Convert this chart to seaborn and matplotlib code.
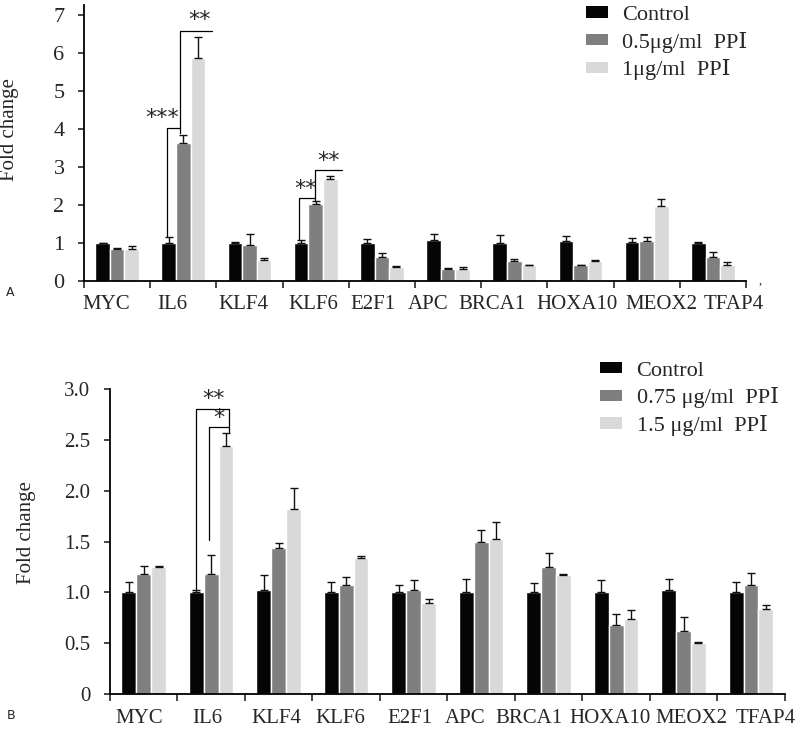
import numpy as np
import pandas as pd
import matplotlib
matplotlib.use("Agg")
import matplotlib.pyplot as plt
import seaborn as sns
from matplotlib.patches import Patch
from matplotlib.ticker import FixedLocator, NullFormatter

# -------------------------------
# Data
# -------------------------------
genes = ["MYC", "IL6", "KLF4", "KLF6", "E2F1", "APC", "BRCA1", "HOXA10", "MEOX2", "TFAP4"]

groups_a = ["Control", "0.5μg/ml  PPⅠ", "1μg/ml  PPⅠ"]
ctrl_a = [1.00, 1.00, 1.00, 1.00, 1.00, 1.08, 1.00, 1.05, 1.03, 1.01]
mid_a = [0.85, 3.63, 0.95, 2.02, 0.64, 0.31, 0.54, 0.41, 1.06, 0.64]
high_a = [0.85, 5.87, 0.56, 2.69, 0.38, 0.33, 0.42, 0.54, 1.97, 0.42]
ctrl_a_err = [0.00, 0.15, 0.04, 0.07, 0.11, 0.17, 0.22, 0.13, 0.10, 0.01]
mid_a_err = [0.03, 0.23, 0.30, 0.08, 0.10, 0.04, 0.04, 0.01, 0.10, 0.12]
high_a_err = [0.08, 0.56, 0.05, 0.09, 0.02, 0.05, 0.01, 0.01, 0.20, 0.08]

groups_b = ["Control", "0.75 μg/ml  PPⅠ", "1.5 μg/ml  PPⅠ"]
ctrl_b = [1.00, 1.00, 1.02, 1.00, 1.00, 1.00, 1.00, 1.00, 1.02, 1.00]
mid_b = [1.18, 1.18, 1.44, 1.07, 1.02, 1.50, 1.25, 0.68, 0.62, 1.07]
high_b = [1.25, 2.44, 1.82, 1.34, 0.90, 1.53, 1.17, 0.74, 0.50, 0.84]
ctrl_b_err = [0.10, 0.02, 0.15, 0.10, 0.07, 0.13, 0.09, 0.12, 0.11, 0.10]
mid_b_err = [0.08, 0.19, 0.05, 0.08, 0.10, 0.11, 0.14, 0.11, 0.14, 0.12]
high_b_err = [0.01, 0.13, 0.21, 0.02, 0.03, 0.16, 0.01, 0.09, 0.01, 0.04]

# gene labels are not centred under the bars in the original figure
label_pos_a = [-0.17, 0.83, 1.90, 2.96, 3.87, 4.70, 5.66, 6.95, 8.22, 9.32]
label_pos_b = [-0.07, 0.94, 1.96, 2.92, 3.94, 4.76, 5.71, 6.91, 8.11, 9.22]

colors = ["#050505", "#7f7f7f", "#d9d9d9"]

sns.set_style("white")
plt.rcParams["font.family"] = ["Liberation Serif", "DejaVu Serif"]


def long_df(groups, vals):
    rows = []
    for g, v in zip(groups, vals):
        for gene, y in zip(genes, v):
            rows.append({"gene": gene, "group": g, "value": y})
    return pd.DataFrame(rows)


def draw_panel(ax, groups, vals, errs, ylim, yticks, yticklabels, tick_fs,
               label_pos, lab_fs, lab_pad, leg_loc):
    df = long_df(groups, vals)
    sns.barplot(data=df, x="gene", y="value", hue="group", order=genes,
                hue_order=groups, palette=colors, width=0.66, errorbar=None,
                saturation=1, legend=False, ax=ax)
    # upward error bars on each bar
    for cont, err in zip(ax.containers, errs):
        xs = [p.get_x() + p.get_width() / 2 for p in cont.patches]
        ys = [p.get_height() for p in cont.patches]
        ax.errorbar(xs, ys, yerr=[np.zeros(len(err)), err], fmt="none",
                    ecolor="#111111", elinewidth=1.0, capsize=3, capthick=1.0)
    ax.set_xlim(-0.5, len(genes) - 0.5)
    ax.set_ylim(*ylim)
    ax.set_yticks(yticks)
    ax.set_yticklabels(yticklabels, fontsize=tick_fs)
    ax.set_xticks(label_pos)
    ax.set_xticklabels(genes, fontsize=lab_fs)
    ax.xaxis.set_minor_locator(FixedLocator(np.arange(-0.5, len(genes), 1.0)))
    ax.xaxis.set_minor_formatter(NullFormatter())
    ax.tick_params(axis="x", which="major", length=0, pad=lab_pad)
    ax.tick_params(axis="x", which="minor", length=5, width=1.2, direction="out", bottom=True)
    ax.tick_params(axis="y", length=4, width=1.2, direction="out", left=True, pad=10)
    ax.set_xlabel("")
    ax.set_ylabel("Fold change", fontsize=15)
    for s in ["top", "right"]:
        ax.spines[s].set_visible(False)
    for s in ["left", "bottom"]:
        ax.spines[s].set_color("black")
        ax.spines[s].set_linewidth(1.3)
    handles = [Patch(facecolor=c, edgecolor="none") for c in colors]
    ax.legend(handles, groups, loc="upper left", bbox_to_anchor=leg_loc, frameon=False,
              fontsize=16, handlelength=1.0, handleheight=0.4, handletextpad=0.65,
              labelspacing=0.3, borderaxespad=0, borderpad=0)


fig = plt.figure(figsize=(8, 7.3), dpi=100)
star_kw = dict(ha="center", va="bottom", fontsize=16, family="DejaVu Sans")

# Panel A
ax1 = fig.add_axes([0.105, 0.615, 0.8275, 0.378])
draw_panel(ax1, groups_a, [ctrl_a, mid_a, high_a], [ctrl_a_err, mid_a_err, high_a_err],
           (0, 7.27), range(8), [str(i) for i in range(8)], 16,
           label_pos_a, 15, 10, (0.758, 0.997))
ax1.yaxis.set_label_coords(-0.098, 0.55)

# brackets, panel A
lw = 0.9
ax1.plot([0.76, 0.76, 0.95], [1.18, 4.03, 4.03], color="k", lw=lw)
ax1.plot([0.95, 0.95, 1.43], [3.9, 6.58, 6.58], color="k", lw=lw)
ax1.text(0.68, 4.02, "***", **star_kw)
ax1.text(1.24, 6.62, "**", **star_kw)
ax1.plot([2.75, 2.75, 2.99], [1.1, 2.2, 2.2], color="k", lw=lw)
ax1.plot([2.99, 2.99, 3.40], [2.12, 2.92, 2.92], color="k", lw=lw)
ax1.text(2.84, 2.17, "**", **star_kw)
ax1.text(3.2, 2.9, "**", **star_kw)
fig.text(0.948, 0.612, ",", fontsize=9)

# Panel B
ax2 = fig.add_axes([0.1375, 0.0493, 0.8435, 0.4177])
draw_panel(ax2, groups_b, [ctrl_b, mid_b, high_b], [ctrl_b_err, mid_b_err, high_b_err],
           (0, 3.0), [0, 0.5, 1.0, 1.5, 2.0, 2.5, 3.0],
           ["0", "0.5", "1.0", "1.5", "2.0", "2.5", "3.0"], 15,
           label_pos_b, 15, 11, (0.726, 1.09))
ax2.yaxis.set_label_coords(-0.11, 0.53)

# brackets, panel B
ax2.plot([0.78, 0.78, 1.27, 1.27], [1.03, 2.80, 2.80, 2.58], color="k", lw=lw)
ax2.plot([0.97, 0.97, 1.27], [1.52, 2.63, 2.63], color="k", lw=lw)
ax2.text(1.03, 2.8, "**", **star_kw)
ax2.text(1.11, 2.62, "*", **star_kw)

fig.text(0.008, 0.6, "A", fontsize=9, family="DejaVu Sans", va="center")
fig.text(0.008, 0.02, "B", fontsize=9, family="DejaVu Sans", va="center")

fig.savefig("out.png", dpi=100)
